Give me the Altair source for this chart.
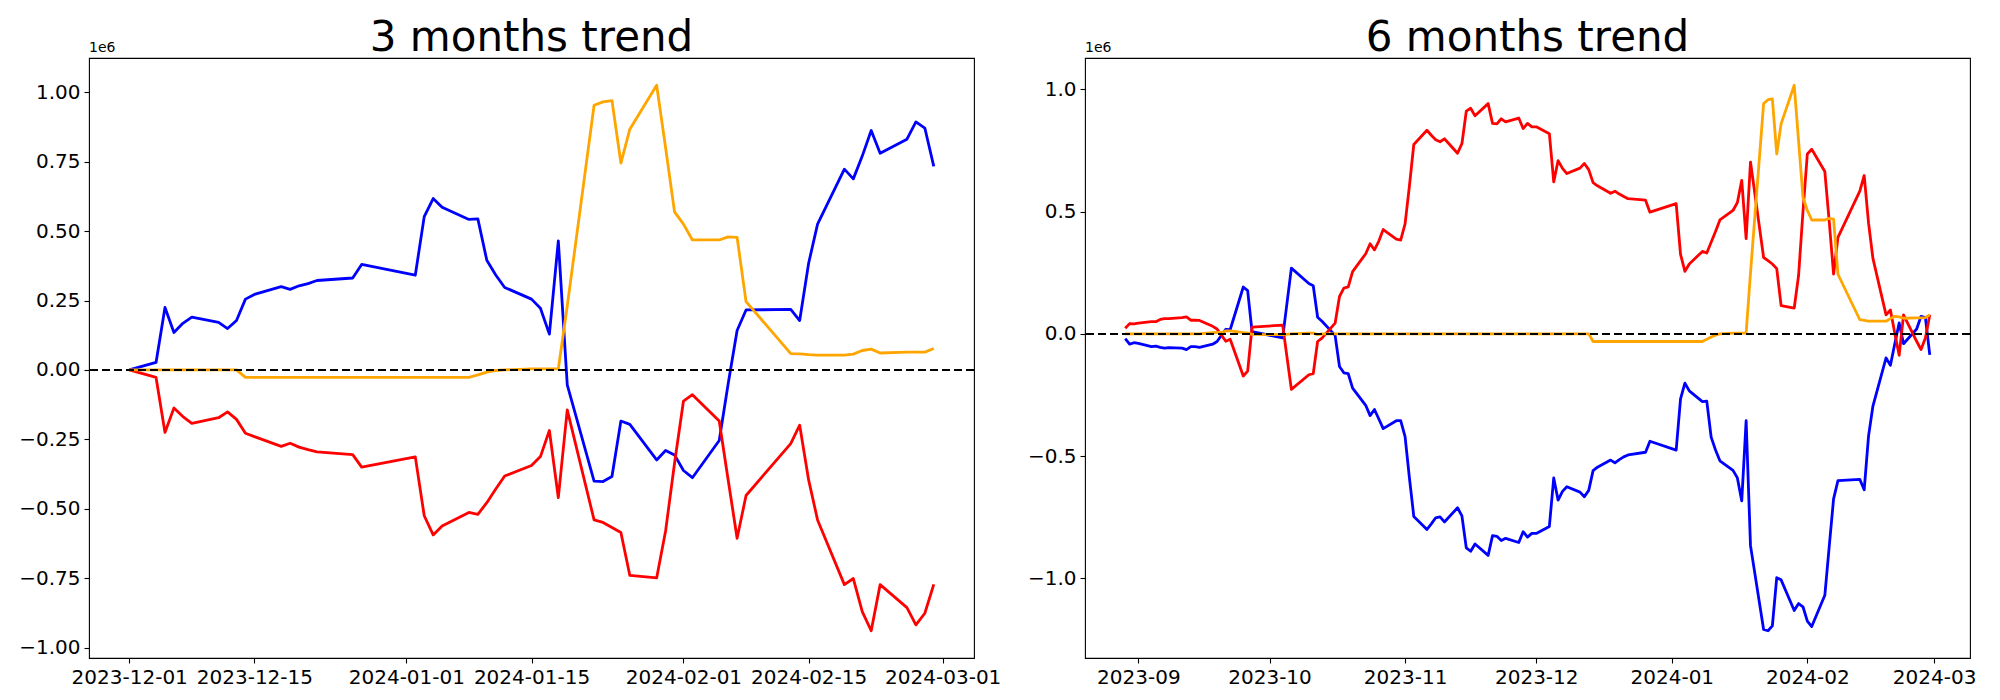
import altair as alt
import pandas as pd

# ---------------- data (values in units of 1e6) ----------------
titles = ["3 months trend", "6 months trend"]
scale_text = "1e6"

dates_3m = [
    "2023-12-01", "2023-12-04", "2023-12-05", "2023-12-06", "2023-12-07", "2023-12-08",
    "2023-12-11", "2023-12-12", "2023-12-13", "2023-12-14", "2023-12-15",
    "2023-12-18", "2023-12-19", "2023-12-20", "2023-12-21", "2023-12-22",
    "2023-12-26", "2023-12-27",
    "2024-01-02", "2024-01-03", "2024-01-04", "2024-01-05",
    "2024-01-08", "2024-01-09", "2024-01-10", "2024-01-11", "2024-01-12",
    "2024-01-15", "2024-01-16", "2024-01-17", "2024-01-18", "2024-01-19",
    "2024-01-22", "2024-01-23", "2024-01-24", "2024-01-25", "2024-01-26",
    "2024-01-29", "2024-01-30", "2024-01-31",
    "2024-02-01", "2024-02-02",
    "2024-02-05", "2024-02-06", "2024-02-07", "2024-02-08",
    "2024-02-13", "2024-02-14", "2024-02-15", "2024-02-16",
    "2024-02-19", "2024-02-20", "2024-02-21", "2024-02-22", "2024-02-23",
    "2024-02-26", "2024-02-27", "2024-02-28", "2024-02-29",
]
blue_3m = [
    0.0, 0.027, 0.225, 0.135, 0.168, 0.19,
    0.171, 0.149, 0.178, 0.255, 0.272,
    0.30, 0.29, 0.303, 0.311, 0.322,
    0.331, 0.38,
    0.341, 0.552, 0.617, 0.586,
    0.542, 0.544, 0.395, 0.342, 0.297,
    0.255, 0.222, 0.129, 0.465, -0.054,
    -0.40, -0.402, -0.384, -0.184, -0.196,
    -0.324, -0.29, -0.306,
    -0.362, -0.388,
    -0.254, -0.05, 0.142, 0.216,
    0.218, 0.178, 0.384, 0.525,
    0.723, 0.688, 0.77, 0.862, 0.78,
    0.831, 0.893, 0.871, 0.733,
]
red_3m = [
    0.0, -0.027, -0.225, -0.137, -0.168, -0.192,
    -0.172, -0.151, -0.178, -0.228, -0.24,
    -0.275, -0.264, -0.278, -0.287, -0.295,
    -0.305, -0.35,
    -0.313, -0.525, -0.594, -0.562,
    -0.513, -0.52, -0.478, -0.429, -0.382,
    -0.344, -0.312, -0.218, -0.46, -0.144,
    -0.54, -0.549, -0.567, -0.585, -0.74,
    -0.749, -0.58, -0.336,
    -0.112, -0.089,
    -0.184, -0.396, -0.606, -0.452,
    -0.265, -0.199, -0.396, -0.54,
    -0.773, -0.751, -0.87, -0.939, -0.773,
    -0.856, -0.918, -0.876, -0.772,
]
orange_3m = [
    0.0, 0.0, 0.0, 0.0, 0.0, 0.0,
    0.0, 0.0, 0.0, -0.027, -0.027,
    -0.027, -0.027, -0.027, -0.027, -0.027,
    -0.027, -0.027,
    -0.027, -0.027, -0.027, -0.027,
    -0.027, -0.018, -0.008, -0.002, 0.0,
    0.004, 0.004, 0.004, 0.004, 0.23,
    0.953, 0.965, 0.97, 0.745, 0.867,
    1.025, 0.80, 0.569,
    0.525, 0.468,
    0.468, 0.479, 0.477, 0.246,
    0.059, 0.058, 0.055, 0.053,
    0.053, 0.057, 0.07, 0.075, 0.061,
    0.064, 0.064, 0.064, 0.077,
]

dates_6m = [
    "2023-08-29", "2023-08-30", "2023-08-31", "2023-09-01",
    "2023-09-04", "2023-09-05", "2023-09-06", "2023-09-07", "2023-09-08",
    "2023-09-11", "2023-09-12", "2023-09-13", "2023-09-14", "2023-09-15",
    "2023-09-18", "2023-09-19", "2023-09-20", "2023-09-21", "2023-09-22",
    "2023-09-25", "2023-09-26", "2023-09-27",
    "2023-10-04", "2023-10-06",
    "2023-10-10", "2023-10-11", "2023-10-12", "2023-10-13",
    "2023-10-16", "2023-10-17", "2023-10-18", "2023-10-19", "2023-10-20",
    "2023-10-23", "2023-10-24", "2023-10-25", "2023-10-26", "2023-10-27",
    "2023-10-30", "2023-10-31",
    "2023-11-01", "2023-11-02", "2023-11-03",
    "2023-11-06", "2023-11-07", "2023-11-08", "2023-11-09", "2023-11-10",
    "2023-11-13", "2023-11-14", "2023-11-15", "2023-11-16", "2023-11-17",
    "2023-11-20", "2023-11-21", "2023-11-22", "2023-11-23", "2023-11-24",
    "2023-11-27", "2023-11-28", "2023-11-29", "2023-11-30",
    "2023-12-01",
    "2023-12-04", "2023-12-05", "2023-12-06", "2023-12-07", "2023-12-08",
    "2023-12-11", "2023-12-12", "2023-12-13", "2023-12-14", "2023-12-15",
    "2023-12-18", "2023-12-19", "2023-12-20", "2023-12-21", "2023-12-22",
    "2023-12-26", "2023-12-27",
    "2024-01-02", "2024-01-03", "2024-01-04", "2024-01-05",
    "2024-01-08", "2024-01-09", "2024-01-10", "2024-01-11", "2024-01-12",
    "2024-01-15", "2024-01-16", "2024-01-17", "2024-01-18", "2024-01-19",
    "2024-01-22", "2024-01-23", "2024-01-24", "2024-01-25", "2024-01-26",
    "2024-01-29", "2024-01-30", "2024-01-31",
    "2024-02-01", "2024-02-02",
    "2024-02-05", "2024-02-06", "2024-02-07", "2024-02-08",
    "2024-02-13", "2024-02-14", "2024-02-15", "2024-02-16",
    "2024-02-19", "2024-02-20", "2024-02-21", "2024-02-22", "2024-02-23",
    "2024-02-26", "2024-02-27", "2024-02-28", "2024-02-29",
]
blue_6m = [
    -0.019, -0.042, -0.036, -0.039,
    -0.052, -0.05, -0.055, -0.058, -0.056,
    -0.058, -0.064, -0.052, -0.052, -0.055,
    -0.042, -0.031, -0.006, 0.019, 0.017,
    0.192, 0.177, 0.009,
    -0.016, 0.269,
    0.206, 0.197, 0.068, 0.052,
    -0.006, -0.133, -0.159, -0.1625, -0.222,
    -0.292, -0.334, -0.309, -0.348, -0.3875,
    -0.355, -0.355,
    -0.42, -0.59, -0.747,
    -0.80, -0.777, -0.752, -0.748, -0.769,
    -0.711, -0.744, -0.875, -0.889, -0.859,
    -0.906, -0.825, -0.828, -0.845, -0.836,
    -0.853, -0.809, -0.831, -0.816,
    -0.816,
    -0.7875, -0.589, -0.68, -0.644, -0.625,
    -0.647, -0.666, -0.64, -0.559, -0.545,
    -0.516, -0.527, -0.514, -0.503, -0.495,
    -0.484, -0.439,
    -0.475, -0.266, -0.2015, -0.233,
    -0.277, -0.275, -0.422, -0.475, -0.519,
    -0.558, -0.589, -0.683, -0.355, -0.866,
    -1.209, -1.214, -1.194, -0.997, -1.006,
    -1.131, -1.103, -1.116,
    -1.175, -1.197,
    -1.069, -0.87, -0.675, -0.6,
    -0.595, -0.6375, -0.417, -0.295,
    -0.098, -0.128, -0.04, 0.045, -0.04,
    0.02, 0.072, 0.067, -0.086,
]
red_6m = [
    0.023, 0.042, 0.041, 0.044,
    0.05, 0.05, 0.059, 0.0625, 0.0625,
    0.067, 0.07, 0.056, 0.056, 0.055,
    0.031, 0.02, -0.005, -0.03, -0.022,
    -0.172, -0.152, 0.028,
    0.036, -0.227,
    -0.167, -0.1625, -0.031, -0.017,
    0.044, 0.153, 0.1875, 0.192, 0.255,
    0.328, 0.369, 0.344, 0.38, 0.427,
    0.3875, 0.384,
    0.45, 0.606, 0.775,
    0.833, 0.8125, 0.794, 0.786, 0.798,
    0.739, 0.778, 0.911, 0.923, 0.892,
    0.942, 0.861, 0.859, 0.88, 0.867,
    0.883, 0.84, 0.861, 0.847,
    0.847,
    0.819, 0.622, 0.709, 0.677, 0.656,
    0.678, 0.697, 0.672, 0.619, 0.606,
    0.575, 0.584, 0.572, 0.5625, 0.553,
    0.547, 0.498,
    0.533, 0.325, 0.256, 0.286,
    0.3375, 0.331, 0.375, 0.419, 0.466,
    0.505, 0.5375, 0.628, 0.39, 0.703,
    0.3125, 0.30, 0.286, 0.267, 0.116,
    0.106, 0.24, 0.5,
    0.736, 0.755,
    0.664, 0.46, 0.245, 0.395,
    0.584, 0.648, 0.453, 0.309,
    0.078, 0.098, 0.003, -0.0875, 0.078,
    -0.03, -0.064, -0.017, 0.078,
]
orange_6m = [
    0.0, 0.0, 0.0, 0.0,
    0.0, 0.0, 0.0, 0.0, 0.0,
    0.0, 0.0, 0.0, 0.0, 0.0,
    0.005, 0.006, 0.006, 0.0125, 0.0125,
    0.005, 0.003, -0.002,
    -0.003, 0.0,
    0.003, 0.003, -0.003, 0.0,
    0.0, 0.0, 0.0, 0.0, 0.0,
    0.0, 0.0, 0.0, 0.0, 0.0,
    0.0, 0.0,
    0.0, 0.0, 0.0,
    0.0, 0.0, 0.0, 0.0, 0.0,
    0.0, 0.0, 0.0, 0.0, 0.0,
    0.0, 0.0, 0.0, 0.0, 0.0,
    0.0, 0.0, 0.0, 0.0,
    0.0,
    0.0, 0.0, 0.0, 0.0, 0.0,
    0.0, 0.0, 0.0, -0.031, -0.031,
    -0.031, -0.031, -0.031, -0.031, -0.031,
    -0.031, -0.031,
    -0.031, -0.031, -0.031, -0.031,
    -0.031, -0.022, -0.0125, -0.005, 0.0,
    0.003, 0.003, 0.003, 0.003, 0.25,
    0.942, 0.958, 0.961, 0.736, 0.859,
    1.017, 0.789, 0.559,
    0.505, 0.466,
    0.466, 0.473, 0.47, 0.244,
    0.058, 0.055, 0.052, 0.052,
    0.052, 0.0625, 0.072, 0.07, 0.064,
    0.066, 0.066, 0.067, 0.078,
]

x_ticks_3m = ["2023-12-01", "2023-12-15", "2024-01-01", "2024-01-15",
              "2024-02-01", "2024-02-15", "2024-03-01"]
x_ticks_6m = ["2023-09-01", "2023-10-01", "2023-11-01", "2023-12-01",
              "2024-01-01", "2024-02-01", "2024-03-01"]
y_ticks_3m = [-1.0, -0.75, -0.5, -0.25, 0.0, 0.25, 0.5, 0.75, 1.0]
y_ticks_6m = [-1.0, -0.5, 0.0, 0.5, 1.0]

series_colors = {"blue": "blue", "red": "red", "orange": "orange"}

FONT = "DejaVu Sans"
PANEL_W = 885
PANEL_H = 600


def dt(ts):
    ts = pd.Timestamp(ts)
    return alt.DateTime(year=ts.year, month=ts.month, date=ts.day,
                        hours=ts.hour, minutes=ts.minute, seconds=ts.second)


def panel(title, dates, blue, red, orange, xticks, xfmt, yticks, yfmt):
    t = pd.to_datetime(dates)
    df = pd.DataFrame({
        "date": t.strftime("%Y-%m-%dT00:00:00"),
        "blue": blue, "red": red, "orange": orange,
    })
    span = t.max() - t.min()
    xdom = [dt(t.min() - span * 0.05), dt(t.max() + span * 0.05)]
    allv = list(blue) + list(red) + list(orange)
    lo, hi = min(allv), max(allv)
    ydom = [lo - 0.05 * (hi - lo), hi + 0.05 * (hi - lo)]

    xenc = alt.X("date:T",
                 scale=alt.Scale(domain=xdom),
                 axis=alt.Axis(values=[dt(v) for v in xticks], format=xfmt,
                               labelOverlap=False, labelFlush=False,
                               title=None, grid=False))
    base = alt.Chart(df)
    layers = []
    for col in ["blue", "red", "orange"]:
        layers.append(
            base.mark_line(color=series_colors[col], strokeWidth=2.8,
                           strokeJoin="round").encode(
                x=xenc,
                y=alt.Y(f"{col}:Q",
                        scale=alt.Scale(domain=ydom, nice=False, zero=False),
                        axis=alt.Axis(values=yticks, format=yfmt, title=None,
                                      grid=False))
            )
        )
    zero = alt.Chart(pd.DataFrame({"z": [0.0]})).mark_rule(
        color="black", strokeDash=[8, 4], strokeWidth=2
    ).encode(y=alt.Y("z:Q"))
    sci = alt.Chart(pd.DataFrame({"t": [scale_text]})).mark_text(
        align="left", baseline="alphabetic", fontSize=14, font=FONT, color="black"
    ).encode(x=alt.value(0), y=alt.value(-6), text="t:N")
    ttl = alt.Chart(pd.DataFrame({"t": [title]})).mark_text(
        align="center", baseline="alphabetic", fontSize=42, font=FONT,
        color="black"
    ).encode(x=alt.value(PANEL_W / 2), y=alt.value(-7), text="t:N")
    return alt.layer(*layers, zero, sci, ttl).properties(
        width=PANEL_W, height=PANEL_H,
    )


left = panel(titles[0], dates_3m, blue_3m, red_3m, orange_3m,
             x_ticks_3m, "%Y-%m-%d", y_ticks_3m, ".2f")
right = panel(titles[1], dates_6m, blue_6m, red_6m, orange_6m,
              x_ticks_6m, "%Y-%m", y_ticks_6m, ".1f")

chart = alt.hconcat(left, right, spacing=111, bounds="flush").configure(
    font=FONT,
    padding={"left": 10, "top": 8, "right": 5, "bottom": 5},
).configure_view(
    stroke="black", strokeWidth=1.1
).configure_axis(
    domain=False, grid=False, ticks=True, tickSize=5, tickWidth=1.1,
    tickColor="black", labelFontSize=20, labelColor="black",
    labelPadding=4, labelFont=FONT,
)

chart.save("out.html", embed_options={"renderer": "svg", "actions": False})
